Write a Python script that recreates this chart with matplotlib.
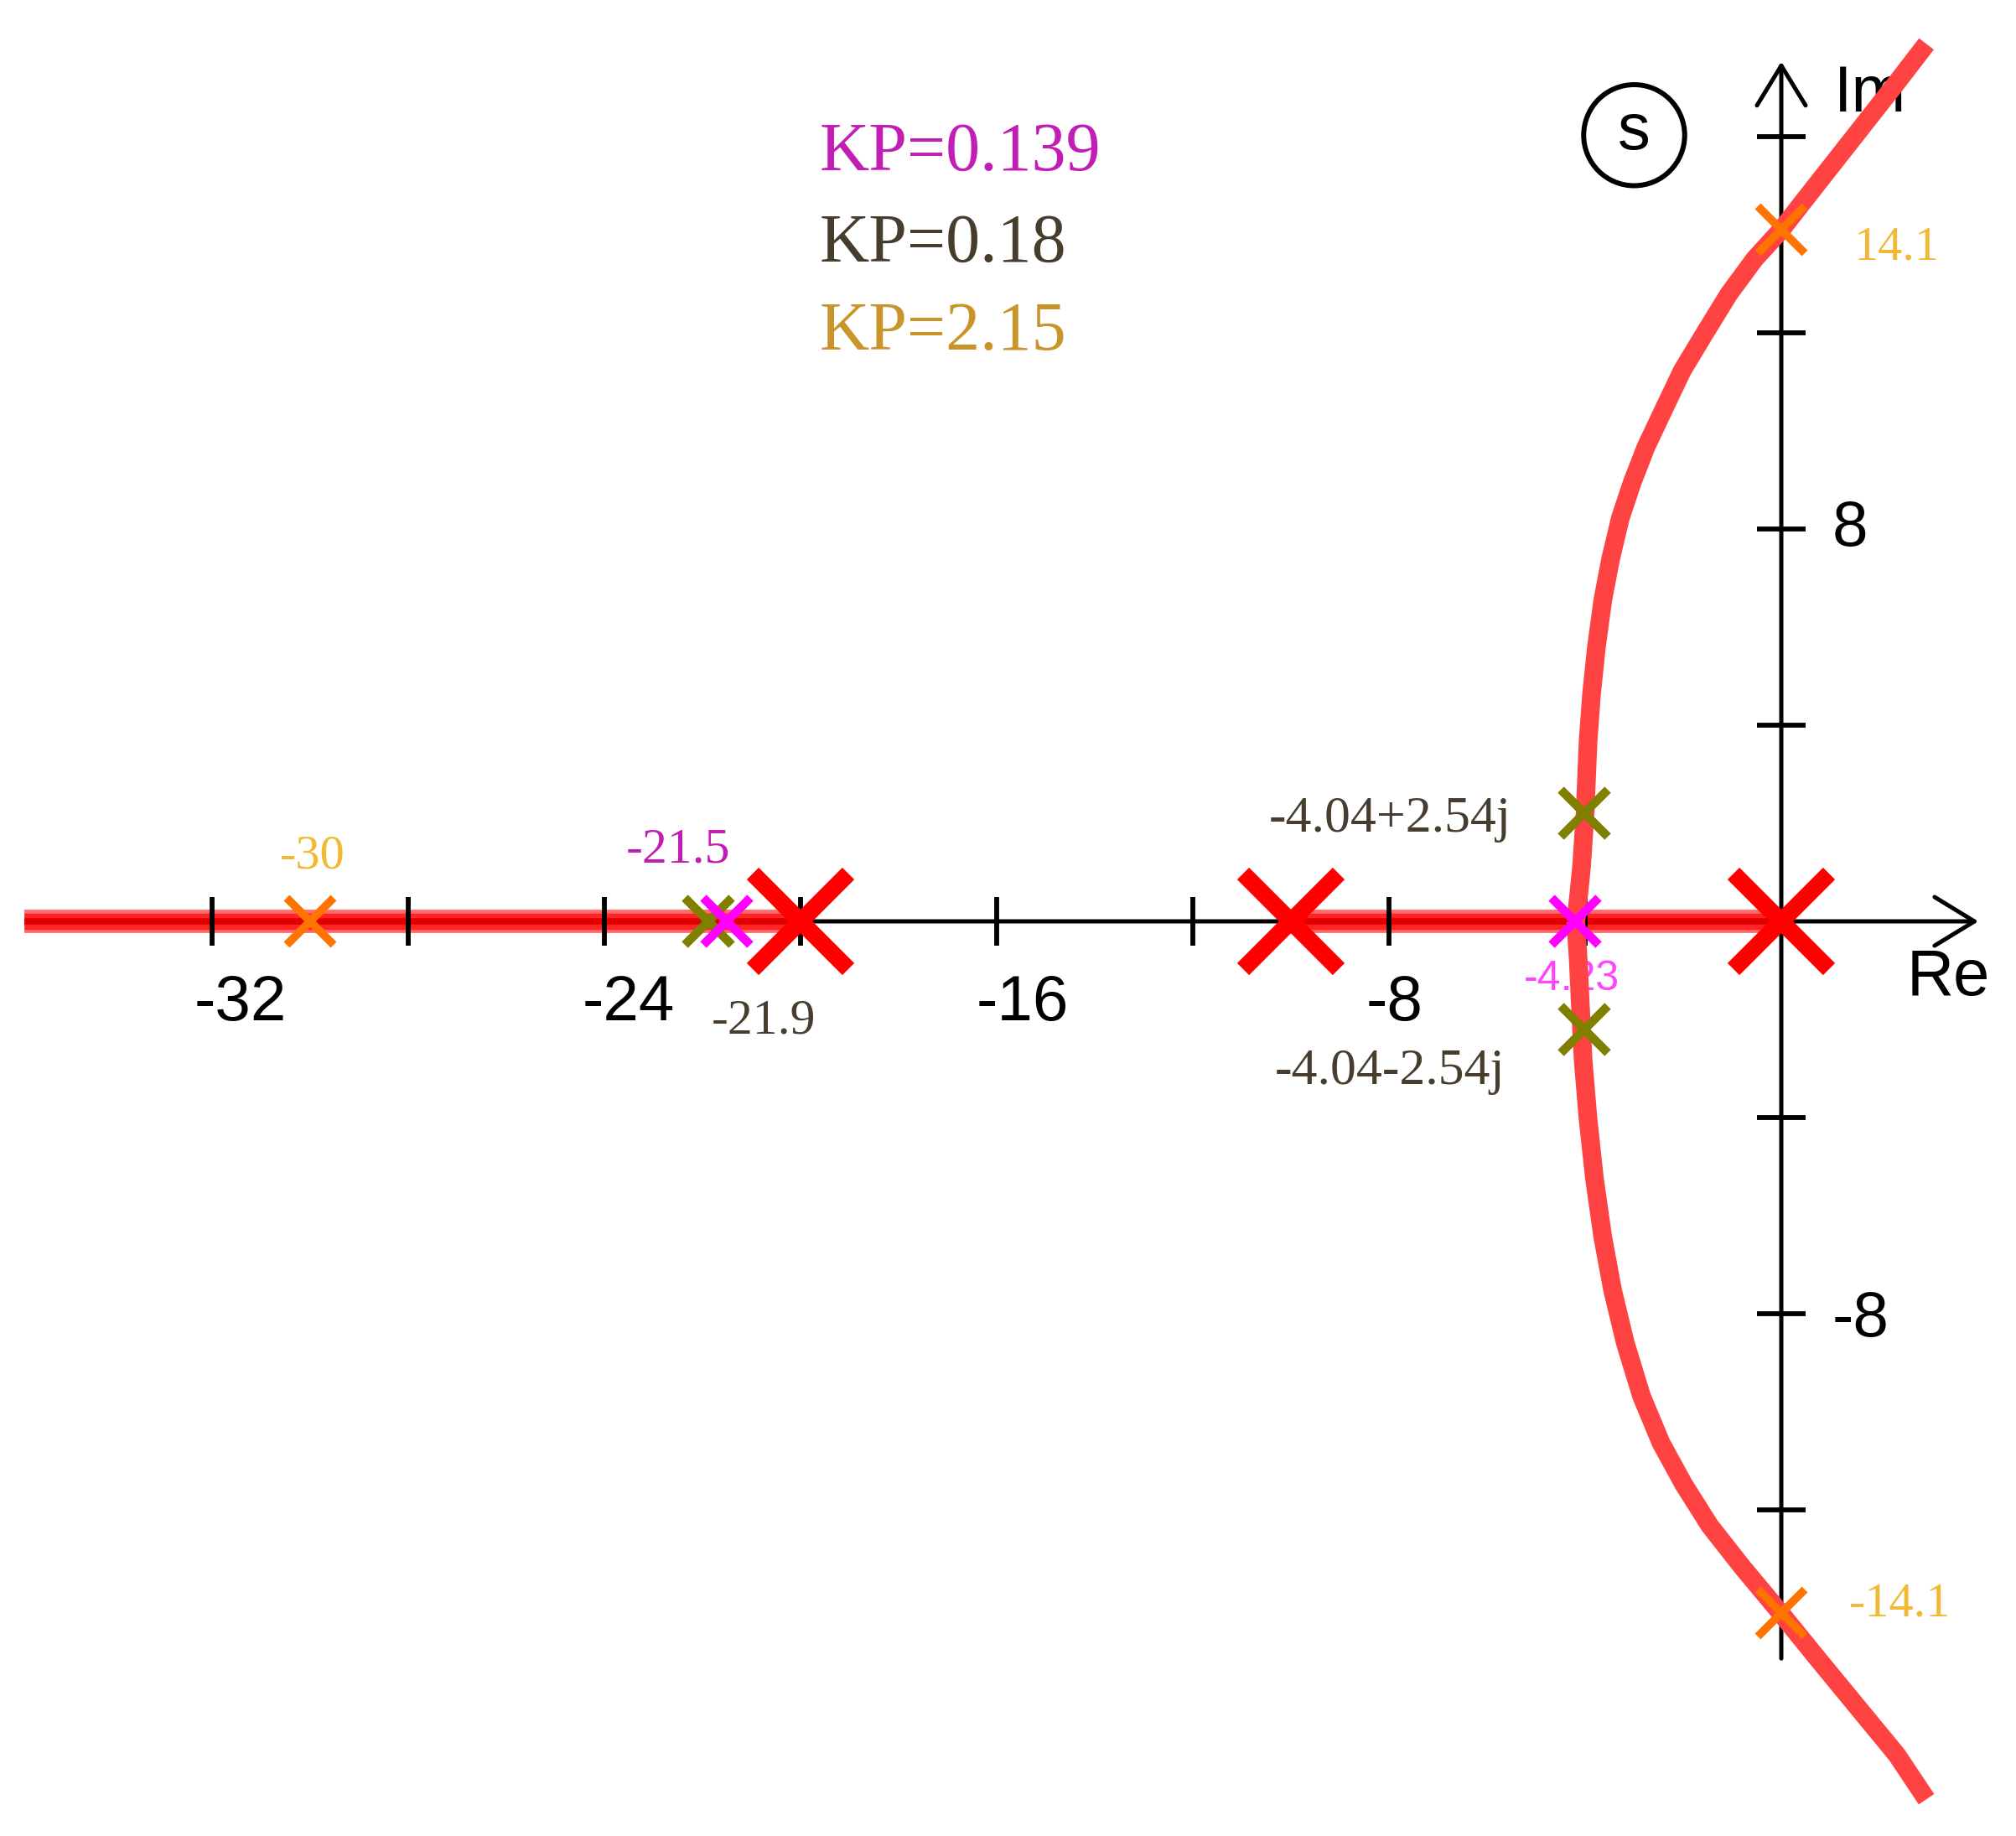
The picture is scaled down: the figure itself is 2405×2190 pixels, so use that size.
import matplotlib
matplotlib.use("Agg")
import matplotlib.pyplot as plt
from matplotlib.patches import Circle

# ---------------- data ----------------
open_loop_poles = [0.0, -10.0, -20.0]

# real-axis parts of the locus (left end = picture edge)
real_locus_start = [-35.83, -10.0]
real_locus_end = [-20.0, 0.0]

# complex branches of the locus (as drawn)
upper_re = [2.96, 2.36, 1.70, 1.04, 0.38, 0.0, -0.54, -1.07, -1.55, -2.02, -2.42, -2.76,
            -3.04, -3.28, -3.48, -3.64, -3.77, -3.87, -3.94, -4.00, -4.07, -4.13, -4.19]
upper_im = [17.89, 17.11, 16.27, 15.43, 14.59, 14.1, 13.51, 12.79, 12.01, 11.23, 10.39, 9.67,
            8.95, 8.23, 7.39, 6.55, 5.59, 4.63, 3.67, 2.23, 1.15, 0.55, 0.0]
lower_re = [-4.19, -4.14, -4.10, -4.04, -3.94, -3.81, -3.64, -3.44, -3.18, -2.85, -2.45,
            -1.99, -1.46, -0.80, 0.0, 0.78, 1.57, 2.36, 2.96]
lower_im = [0.0, -0.8, -1.65, -2.84, -4.04, -5.24, -6.44, -7.52, -8.60, -9.68, -10.64,
            -11.48, -12.32, -13.16, -14.12, -15.08, -16.04, -17.0, -17.9]

# closed-loop poles for each KP
kp_labels = ["KP=0.139", "KP=0.18", "KP=2.15"]
kp0139_re = [-21.5, -4.21]
kp0139_im = [0.0, 0.0]
kp018_re = [-21.88, -4.02, -4.02]
kp018_im = [0.0, 2.21, -2.21]
kp215_re = [-30.0, 0.0, 0.0]
kp215_im = [0.0, 14.1, -14.1]

pole_texts = ["-30", "-21.5", "-21.9", "-4.04+2.54j", "-4.04-2.54j", "-4.23", "14.1", "-14.1"]

x_ticks = [-32, -28, -24, -20, -16, -12, -8, -4]
x_tick_labels = [-32, -24, -16, -8]
y_ticks = [-12, -8, -4, 4, 8, 12, 16]
y_tick_labels = [8, -8]

# ---------------- styling ----------------
SANS = ["Liberation Sans", "DejaVu Sans"]
SERIF = ["Liberation Serif", "DejaVu Serif"]
C_POLE = "#FF0000"
C_CURVE = "#FF4242"
C_MAG = "#FF00FF"
C_OLIVE = "#7F7F00"
C_ORANGE = "#FF7400"
C_T_MAG = "#C21DB5"
C_T_DARK = "#473D2E"
C_T_GOLD = "#C9952B"
C_T_YEL = "#F2B935"
C_T_PINK = "#FF44FF"

W, H = 2405, 2190
x0, y0, ppu = 2125, 1099, 58.5

fig = plt.figure(figsize=(W / 100, H / 100), dpi=100)
ax = fig.add_axes([0, 0, 1, 1])
ax.set_xlim(-x0 / ppu, (W - x0) / ppu)
ax.set_ylim((y0 - H) / ppu, y0 / ppu)
ax.axis("off")

# axes with arrow heads
axis_lw = 3.6
arrow = dict(arrowstyle="->,head_length=0.9,head_width=0.55", lw=axis_lw,
             color="black", shrinkA=0, shrinkB=0, mutation_scale=38)
ax.annotate("", xy=(4.02, 0), xytext=(-35.6, 0), arrowprops=arrow, zorder=2)
ax.annotate("", xy=(0, 17.53), xytext=(0, -15.03), arrowprops=arrow, zorder=2)

# real-axis locus band
for xs, xe in zip(real_locus_start, real_locus_end):
    ax.plot([xs, xe], [0, 0], color="#FF6A6A", lw=20, solid_capstyle="butt", zorder=3)
    ax.plot([xs, xe], [0, 0], color="#FF2424", lw=14, solid_capstyle="butt", zorder=3)
    ax.plot([xs, xe], [0, 0], color="#E00000", lw=5.5, solid_capstyle="butt", zorder=3)

# ticks
for t in x_ticks:
    ax.plot([t, t], [-0.5, 0.5], color="black", lw=4.2, solid_capstyle="butt", zorder=4)
for t in y_ticks:
    ax.plot([-0.5, 0.5], [t, t], color="black", lw=4.2, solid_capstyle="butt", zorder=4)

# tick labels
x_nudge = {-32: 0.58, -24: 0.5, -16: 0.52, -8: 0.12}
for t in x_tick_labels:
    ax.text(t + x_nudge[t], -2.01, f"{t}", family=SANS, fontsize=55,
            ha="center", va="baseline", color="black", zorder=1)
for t in y_tick_labels:
    ax.text(1.03, t - (0.12 if t < 0 else 0.0), f"{t}", family=SANS, fontsize=55,
            ha="left", va="center", color="black", zorder=1)
ax.text(2.56, -1.50, "Re", family=SANS, fontsize=56, ha="left", va="baseline", zorder=1)
ax.text(1.08, 16.51, "Im", family=SANS, fontsize=56, ha="left", va="baseline", zorder=1)

# s-plane circle
ax.add_patch(Circle((-3.0, 16.03), 1.03, fill=False, lw=4.3, ec="black", zorder=2))
ax.text(-3.0, 16.1, "s", family=SANS, fontsize=56, ha="center", va="center", zorder=2)

# texts (below the locus curve)
ax.text(-29.95, 1.09, pole_texts[0], family=SERIF, fontsize=42, color=C_T_YEL,
        ha="center", va="baseline", zorder=1)
ax.text(-22.5, 1.21, pole_texts[1], family=SERIF, fontsize=43, color=C_T_MAG,
        ha="center", va="baseline", zorder=1)
ax.text(-20.75, -2.29, pole_texts[2], family=SERIF, fontsize=43, color=C_T_DARK,
        ha="center", va="baseline", zorder=1)
ax.text(-7.98, 1.83, pole_texts[3], family=SERIF, fontsize=44.5, color=C_T_DARK,
        ha="center", va="baseline", zorder=1)
ax.text(-7.98, -3.32, pole_texts[4], family=SERIF, fontsize=44.5, color=C_T_DARK,
        ha="center", va="baseline", zorder=1)
ax.text(-4.27, -1.41, pole_texts[5], family=SANS, fontsize=36, color=C_T_PINK,
        ha="center", va="baseline", zorder=1)
ax.text(2.35, 13.49, pole_texts[6], family=SERIF, fontsize=42, color=C_T_YEL,
        ha="center", va="baseline", zorder=1)
ax.text(2.42, -14.17, pole_texts[7], family=SERIF, fontsize=42, color=C_T_YEL,
        ha="center", va="baseline", zorder=1)

# KP legend texts
for lab, col, yb in zip(kp_labels, [C_T_MAG, C_T_DARK, C_T_GOLD], [15.32, 13.46, 11.66]):
    ax.text(-19.61, yb, lab, family=SERIF, fontsize=59, color=col,
            ha="left", va="baseline", zorder=1)

# complex branches
for re_, im_ in ((upper_re, upper_im), (lower_re, lower_im)):
    ax.plot(re_, im_, color=C_CURVE, lw=16, solid_joinstyle="round",
            solid_capstyle="butt", zorder=5)

# closed-loop pole markers
ax.plot(kp215_re, kp215_im, ls="none", marker="x", ms=40, mew=7, color=C_ORANGE, zorder=6)
ax.plot(kp018_re, kp018_im, ls="none", marker="x", ms=40, mew=7.5, color=C_OLIVE, zorder=6)
ax.plot(kp0139_re, kp0139_im, ls="none", marker="x", ms=40, mew=7.5, color=C_MAG, zorder=7)

# open-loop poles
ax.plot(open_loop_poles, [0] * len(open_loop_poles), ls="none", marker="x",
        ms=82, mew=14.5, color=C_POLE, zorder=8)

fig.savefig("out.png", dpi=100, facecolor="white")
